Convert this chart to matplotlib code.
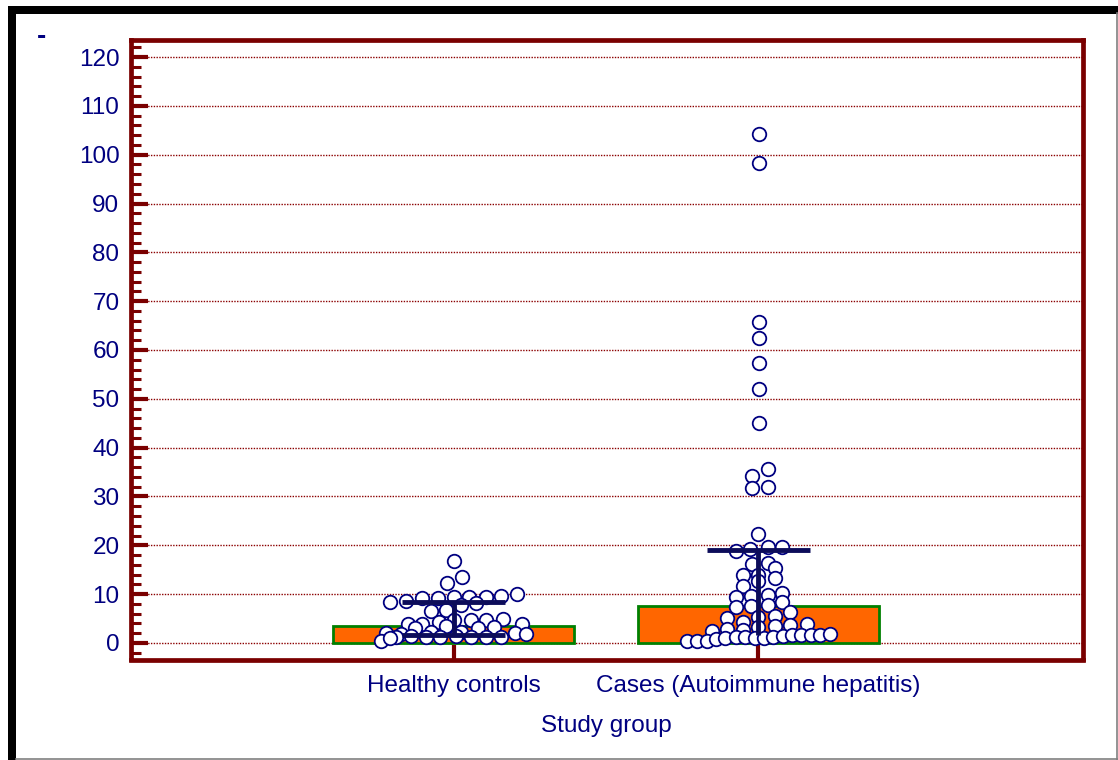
import numpy as np
import matplotlib.pyplot as plt
from matplotlib.ticker import MultipleLocator
from matplotlib.patches import Rectangle
from matplotlib.lines import Line2D

plt.rcParams['font.family'] = ['Liberation Sans', 'DejaVu Sans']

# --- data ---
groups = ['Healthy controls', 'Cases (Autoimmune hepatitis)']
bar_values = [3.5, 7.6]        # bar heights
err_low = [1.6, 1.6]
err_high = [8.4, 19.0]

healthy_vals = [16.8, 13.5, 12.3,
                8.4, 8.6, 9.2, 9.2, 9.4, 9.4, 9.4, 9.6, 10.0,
                6.6, 6.8, 7.8, 8.2,
                3.9, 3.9, 4.3, 4.7, 4.7, 4.7, 4.9, 3.9,
                3.1, 3.5, 3.1, 3.3,
                2.0, 1.8, 2.2, 2.2, 2.0, 1.8,
                1.2, 1.4, 1.2, 1.2, 1.4, 1.2, 1.2, 1.2,
                0.4, 1.0]
cases_vals = [104.2, 98.4, 65.7, 62.5, 57.3, 52.0, 45.0,
              35.6, 34.1, 31.8, 32.0, 22.3,
              18.9, 19.2, 19.6, 19.6,
              16.1, 16.3, 15.4, 13.9, 13.9, 13.3, 12.6, 11.7,
              9.4, 9.7, 9.9, 10.2, 7.3, 7.6, 7.7, 8.3,
              6.3, 5.6, 5.4, 5.0, 4.3, 3.3, 3.5, 3.7, 3.9, 2.9, 2.4, 2.6,
              0.3, 0.3, 0.4, 0.7, 1.0, 1.2, 1.2, 1.0, 1.0, 1.2, 1.4, 1.6,
              1.6, 1.6, 1.6, 1.8]

# horizontal swarm offsets of the dots (layout, in category units)
healthy_dx = [0.000, 0.026, -0.020,
              -0.207, -0.157, -0.105, -0.052, 0.000, 0.049, 0.105, 0.154, 0.207,
              -0.075, -0.026, 0.023, 0.075,
              -0.151, -0.102, -0.049, 0.000, 0.056, 0.105, 0.161, 0.226,
              -0.125, -0.026, 0.079, 0.131,
              -0.223, -0.174, -0.075, 0.023, 0.203, 0.236,
              -0.190, -0.141, -0.092, -0.043, 0.007, 0.056, 0.105, 0.154,
              -0.239, -0.207]
cases_dx = [0.003, 0.003, 0.003, 0.003, 0.003, 0.003, 0.003,
            0.030, -0.021, -0.021, 0.030, 0.000,
            -0.075, -0.026, 0.030, 0.079,
            -0.021, 0.030, 0.056, -0.049, 0.000, 0.056, 0.000, -0.049,
            -0.075, -0.025, 0.030, 0.079, -0.075, -0.025, 0.030, 0.079,
            0.105, 0.056, 0.000, -0.102, -0.049, 0.000, 0.056, 0.105, 0.161, -0.102, -0.151, -0.049,
            -0.233, -0.203, -0.170, -0.138, -0.108, -0.075, -0.043, -0.010, 0.020, 0.049, 0.082, 0.111,
            0.141, 0.174, 0.203, 0.236]

navy = '#000080'
darkred = '#7a0000'
W, H = 1118, 760

fig = plt.figure(figsize=(W / 100, H / 100), dpi=100)
ax = fig.add_axes([130.5 / W, 1 - 659.5 / H, (1083 - 130.5) / W, (659.5 - 40) / H])

pos = np.array([1, 2])
ax.bar(pos, bar_values, width=0.79, color='#ff6600', edgecolor='#008000',
       linewidth=2, zorder=2)

ax.scatter(pos[0] + np.array(healthy_dx), healthy_vals, s=95, facecolor='white',
           edgecolor=navy, linewidth=1.3, zorder=3)
ax.scatter(pos[1] + np.array(cases_dx), cases_vals, s=95, facecolor='white',
           edgecolor=navy, linewidth=1.3, zorder=3)

errc = '#0c0c5a'
ax.vlines(pos, err_low, err_high, color=errc, lw=3.5, zorder=4)
ax.hlines(err_high, pos - 0.17, pos + 0.17, color=errc, lw=3.5, zorder=4)
ax.hlines(err_low[0], pos[0] - 0.17, pos[0] + 0.17, color=errc, lw=3.5, zorder=4)

ax.set_xlim(-0.06, 3.065)
ax.set_ylim(-3.4, 123.5)

ax.yaxis.set_major_locator(MultipleLocator(10))
ax.yaxis.set_minor_locator(MultipleLocator(2))
ax.set_xticks(pos)
ax.set_xticklabels(groups)
ax.tick_params(axis='y', which='major', direction='in', length=12, width=3,
               color=darkred, labelcolor=navy, labelsize=17.5, pad=8)
ax.tick_params(axis='y', which='minor', direction='in', length=7.5, width=2.2,
               color=darkred)
ax.tick_params(axis='x', direction='in', length=11, width=3, color=darkred,
               labelcolor=navy, labelsize=17.5, pad=11)

ax.yaxis.grid(True, which='major', color='#8b0000', linestyle=(0, (1, 1)),
              linewidth=1.0)
ax.set_axisbelow(True)

for s in ax.spines.values():
    s.set_color(darkred)
    s.set_linewidth(3.4)

ax.set_xlabel('Study group', color=navy, fontsize=17.5, labelpad=13)

# frame around the picture
fig.add_artist(Rectangle((8 / W, 1 - 13.5 / H), 1110 / W, 7.5 / H,
                         transform=fig.transFigure, color='black', lw=0))
fig.add_artist(Rectangle((8 / W, 0), 8 / W, 1 - 6 / H,
                         transform=fig.transFigure, color='black', lw=0))
fig.add_artist(Line2D([1116.5 / W, 1116.5 / W], [0, 1 - 13 / H],
                      transform=fig.transFigure, color='gray', lw=1.2))
fig.add_artist(Line2D([16 / W, 1], [1.5 / H, 1.5 / H],
                      transform=fig.transFigure, color='gray', lw=1.2))

fig.text(41.7 / W, 1 - 37 / H, '-', color=navy, fontsize=20, fontweight='bold',
         ha='center', va='center')

fig.savefig('out.png', dpi=100)
